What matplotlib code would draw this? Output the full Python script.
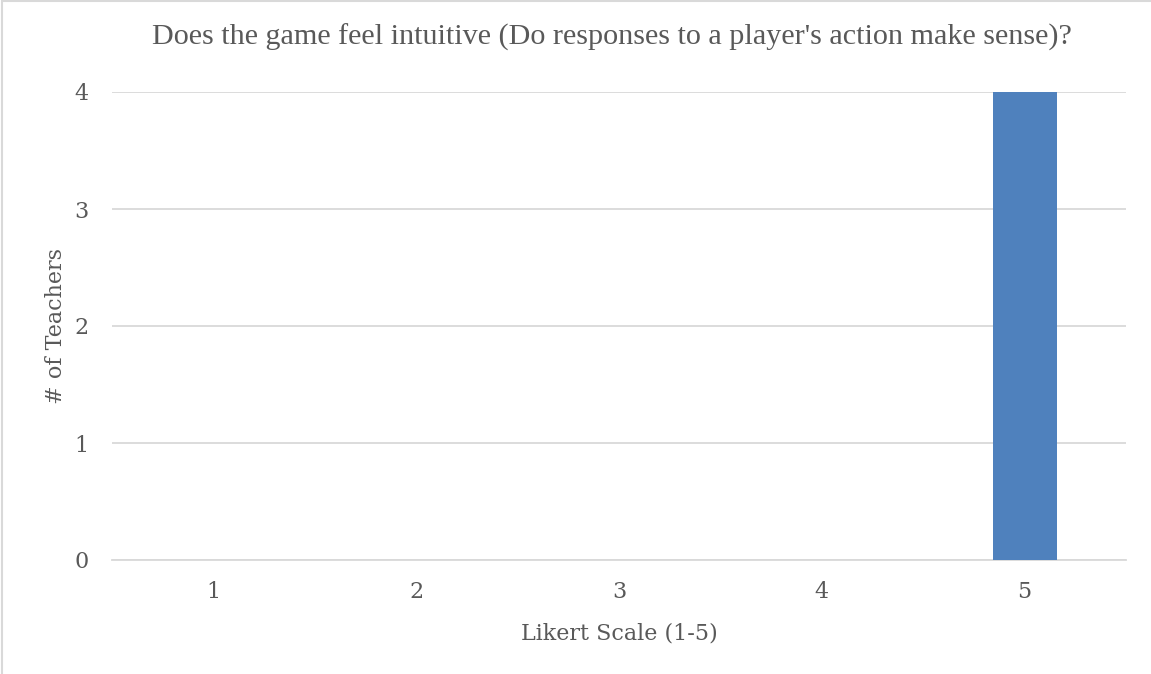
import matplotlib
matplotlib.use("Agg")
import matplotlib.pyplot as plt
from matplotlib.patches import Rectangle

categories = ["1", "2", "3", "4", "5"]
counts = [0, 0, 0, 0, 4]
yticks = [0, 1, 2, 3, 4]
title = "Does the game feel intuitive (Do responses to a player's action make sense)?"
xlabel = "Likert Scale (1-5)"
ylabel = "# of Teachers"

plt.rcParams['font.family'] = ['DejaVu Serif']
txt = '#595959'
grid = '#D9D9D9'

fig = plt.figure(figsize=(11.51, 6.74), dpi=100)
ax = fig.add_axes([112/1151, 1-560/674, (1126-112)/1151, (560-92)/674])
x = list(range(len(categories)))
ax.bar(x, counts, width=0.315, color='#4F81BD', zorder=3)
ax.set_xlim(-0.5, 4.5)
ax.set_ylim(0, 4)
ax.set_yticks(yticks)
ax.set_xticks(x)
ax.set_xticklabels(categories)
for s in ['top', 'right', 'left']:
    ax.spines[s].set_visible(False)
ax.spines['bottom'].set_color(grid)
ax.spines['bottom'].set_linewidth(1.3)
ax.yaxis.grid(True, color=grid, linewidth=1.3, zorder=0)
ax.tick_params(axis='both', length=0, labelsize=16, labelcolor=txt)
ax.tick_params(axis='x', pad=15)
ax.tick_params(axis='y', pad=17)
ax.set_xlabel(xlabel, fontsize=16, color=txt, labelpad=14)
ax.set_ylabel(ylabel, fontsize=16, color=txt, labelpad=5)
fig.text(612/1151, 1-37/674, title, ha='center', va='center', fontsize=21.7,
         color=txt, family=['Liberation Serif', 'DejaVu Serif'])
fig.patches.append(Rectangle((2/1151, -0.01), 1.1, 1.01 - 1/674, transform=fig.transFigure,
                             fill=False, edgecolor=grid, linewidth=1.5))
fig.savefig("out.png", dpi=100)
